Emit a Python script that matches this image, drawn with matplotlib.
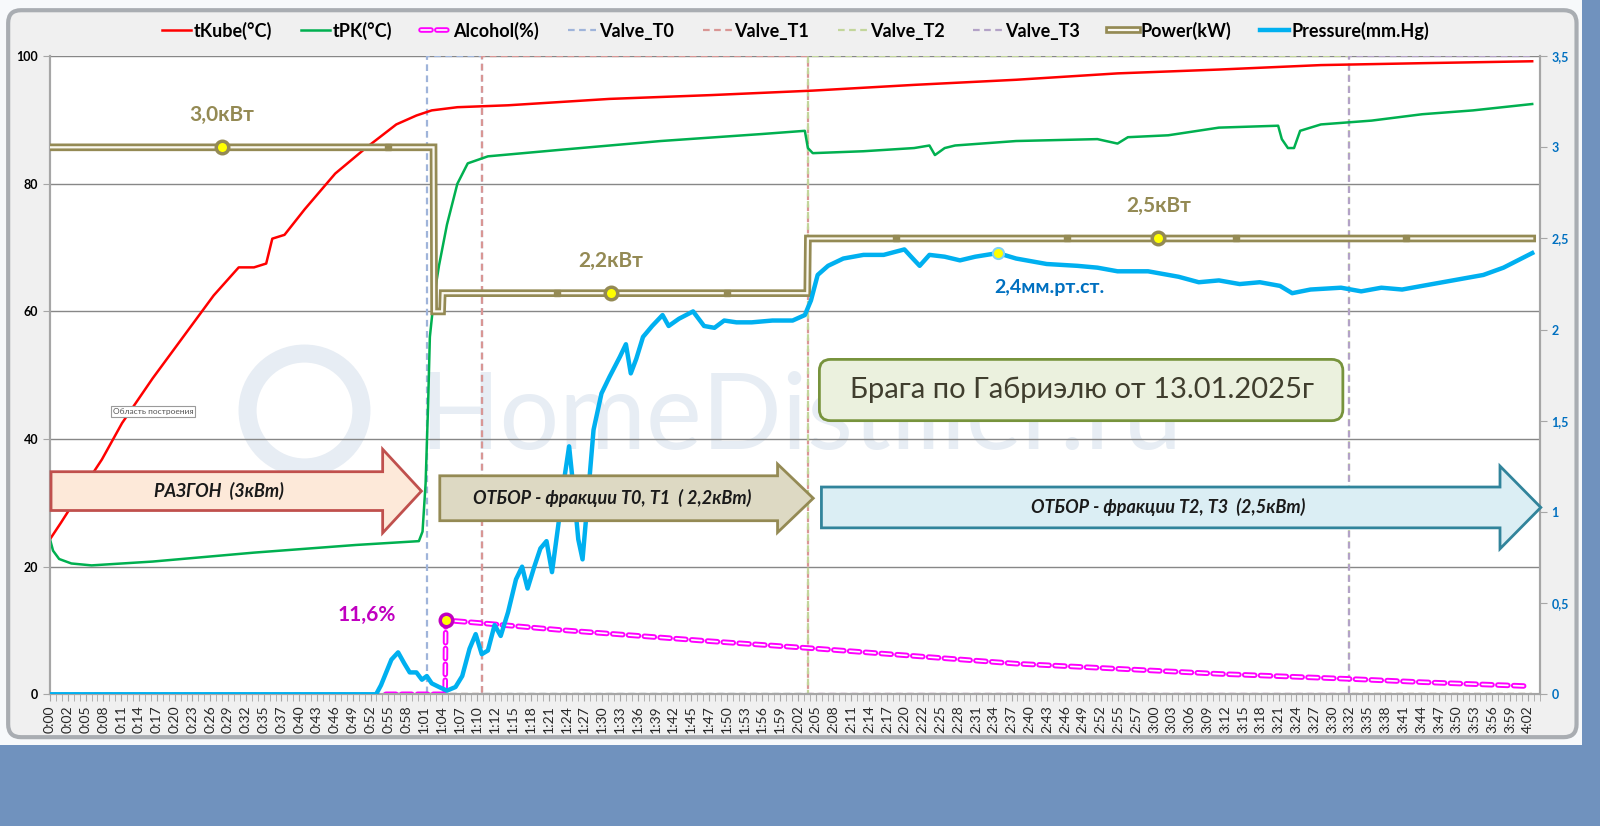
import numpy as np
import matplotlib
matplotlib.use("Agg")
import matplotlib.pyplot as plt
import matplotlib.patheffects as pe
from matplotlib.patches import Polygon, FancyBboxPatch, Rectangle

plt.rcParams['font.family'] = ['Lato', 'DejaVu Sans']

# ---- data (time in minutes from start) ----
tkube_t = [0, 1.8, 5.2, 8.5, 11.8, 16.8, 21.8, 26.8, 30.9, 33.4, 35.4, 36.4, 38.4, 41.7,
           46.7, 51.7, 56.7, 60.0, 62.5, 66.7, 75.0, 91.6, 108.3, 124.9, 141.5, 158.2,
           174.8, 191.4, 208.1, 224.7, 242.7]
tkube_v = [24.3, 26.9, 32.0, 36.8, 42.5, 49.5, 56.0, 62.5, 66.9, 66.9, 67.5, 71.4, 72.0, 76.0,
           81.6, 85.6, 89.3, 90.7, 91.5, 92.0, 92.3, 93.3, 93.9, 94.6, 95.5, 96.3,
           97.3, 97.9, 98.6, 98.9, 99.2]

tpk_t = [0, 0.5, 1.5, 3.5, 6.8, 16.8, 33.4, 50.1, 60.4, 61.0, 61.5, 61.9, 62.2, 62.9, 63.7,
         65.0, 66.7, 68.4, 71.7, 83.3, 100.0, 116.6, 123.6, 124.1, 124.9, 133.2, 141.5,
         144.0, 144.9, 146.5, 148.2, 158.2, 171.5, 174.8, 176.5, 183.1, 191.4, 201.1,
         201.7, 202.7, 203.7, 204.7, 208.1, 216.4, 224.7, 233.0, 242.7]
tpk_v = [24.3, 22.5, 21.2, 20.5, 20.2, 20.8, 22.2, 23.4, 24.0, 25.5, 33.0, 45.0, 56.0, 62.4, 67.2,
         73.6, 80.0, 83.2, 84.3, 85.3, 86.7, 87.8, 88.3, 85.6, 84.8, 85.1, 85.6,
         86.0, 84.5, 85.6, 86.0, 86.7, 87.0, 86.3, 87.3, 87.6, 88.8, 89.1,
         87.0, 85.6, 85.6, 88.3, 89.3, 89.9, 90.9, 91.5, 92.5]

alc_t = [55.0, 64.7, 64.8, 70.0, 83.3, 108.3, 124.9, 158.2, 191.4, 213.0, 224.7, 241.3]
alc_v = [0, 0, 11.6, 11.2, 10.1, 8.3, 7.2, 4.8, 3.2, 2.4, 1.9, 1.3]

press_t = [0, 53.4, 54.2, 55.9, 57.0, 58.0, 58.9, 60.0, 60.9, 61.7, 62.5, 63.7, 65.0, 66.4,
           67.5, 68.7, 69.7, 70.7, 71.7, 72.8, 73.8, 75.0, 76.3, 77.3, 78.2, 79.3, 80.3,
           81.3, 82.2, 83.2, 84.2, 85.0, 85.8, 86.5, 87.2, 88.0, 89.0, 90.3, 91.6, 93.3,
           94.3, 95.1, 96.0, 97.1, 98.6, 100.3, 101.3, 103.0, 105.3, 107.1, 108.8, 110.4,
           112.4, 114.9, 118.3, 121.6, 123.6, 124.6, 125.7, 127.4, 129.9, 133.2, 136.5,
           139.9, 141.0, 142.4, 144.0, 146.5, 149.0, 151.5, 155.2, 158.2, 163.2, 168.2,
           171.5, 174.8, 179.8, 184.8, 188.1, 191.4, 194.8, 198.1, 201.4, 203.4, 206.4,
           211.4, 214.7, 218.0, 221.4, 224.7, 229.7, 234.7, 238.0, 242.7]
press_v = [0, 0, 0.05, 0.19, 0.23, 0.17, 0.12, 0.12, 0.08, 0.10, 0.06, 0.04, 0.02, 0.04,
           0.10, 0.25, 0.33, 0.22, 0.24, 0.38, 0.32, 0.45, 0.63, 0.70, 0.58, 0.70, 0.80,
           0.84, 0.67, 0.92, 1.18, 1.36, 1.10, 0.85, 0.74, 1.05, 1.45, 1.65, 1.74, 1.85,
           1.92, 1.76, 1.84, 1.96, 2.02, 2.08, 2.02, 2.06, 2.10, 2.02, 2.01, 2.05,
           2.04, 2.04, 2.05, 2.05, 2.08, 2.16, 2.30, 2.35, 2.39, 2.41, 2.41,
           2.44, 2.40, 2.35, 2.41, 2.40, 2.38, 2.40, 2.42, 2.39, 2.36, 2.35,
           2.34, 2.32, 2.32, 2.29, 2.26, 2.27, 2.25, 2.26, 2.24, 2.20, 2.22,
           2.23, 2.21, 2.23, 2.22, 2.24, 2.27, 2.30, 2.34, 2.42]

power_t = [0, 62.8, 62.9, 64.2, 64.3, 124.0, 124.1, 242.7]
power_v = [3.0, 3.0, 2.1, 2.1, 2.2, 2.2, 2.5, 2.5]
power_marks_t = [27.6, 55.4, 83.0, 110.8, 138.5, 166.5, 194.2, 222.0]

# valve switch-on times (minutes); each valve is 100 until the next one opens
valve_names = ['Valve_T0', 'Valve_T1', 'Valve_T2', 'Valve_T3']
valve_on = [61.7, 70.7, 124.1, 212.7]
valve_colors = ['#9fb4da', '#d99694', '#c3d69b', '#b3a2c7']
t_end = 242.7

# labelled points
power_label_t = [28.1, 91.8, 181.5]
power_label_txt = ['3,0кВт', '2,2кВт', '2,5кВт']
press_label_t, press_label_v = 155.2, 2.42
alc_label_t, alc_label_v = 64.8, 11.6

x_labels = ['0:00', '0:02', '0:05', '0:08', '0:11', '0:14', '0:17', '0:20', '0:23', '0:26',
            '0:29', '0:32', '0:35', '0:37', '0:40', '0:43', '0:46', '0:49', '0:52', '0:55',
            '0:58', '1:01', '1:04', '1:07', '1:10', '1:12', '1:15', '1:18', '1:21', '1:24',
            '1:27', '1:30', '1:33', '1:36', '1:39', '1:42', '1:45', '1:47', '1:50', '1:53',
            '1:56', '1:59', '2:02', '2:05', '2:08', '2:11', '2:14', '2:17', '2:20', '2:22',
            '2:25', '2:28', '2:31', '2:34', '2:37', '2:40', '2:43', '2:46', '2:49', '2:52',
            '2:55', '2:57', '3:00', '3:03', '3:06', '3:09', '3:12', '3:15', '3:18', '3:21',
            '3:24', '3:27', '3:30', '3:32', '3:35', '3:38', '3:41', '3:44', '3:47', '3:50',
            '3:53', '3:56', '3:59', '4:02']
right_ticks = [0, 0.5, 1, 1.5, 2, 2.5, 3, 3.5]
right_labels = ['0', '0,5', '1', '1,5', '2', '2,5', '3', '3,5']

# ---- figure ----
W, H = 1568, 809  # reference coordinates used for placing decorations


def px(x, y):
    return x / W, 1 - y / H


fig = plt.figure(figsize=(16, 8.26), dpi=100, facecolor='#7092be')
fig.add_artist(Rectangle((0, 1 - 730 / H), 1550 / W, 730 / H, transform=fig.transFigure,
                         fc='#f7f9fb', ec='none', zorder=-3))
x0, y0 = px(8, 722)
x1, y1 = px(1545, 10)
fig.add_artist(FancyBboxPatch((x0, y0), x1 - x0, y1 - y0, transform=fig.transFigure,
                              boxstyle='round,pad=0,rounding_size=0.008', mutation_aspect=1600 / 826,
                              fc='#f0f0f0', ec='#a9adb2', lw=3, zorder=-2))

ax = fig.add_axes([49 / W, 1 - 680 / H, 1460 / W, 625 / H])
ax.set_facecolor('white')
ax2 = ax.twinx()

# watermark
ax.plot(*px(298, 402), 'o', transform=fig.transFigure, ms=82, mfc='none', mec='#e7edf4',
        mew=13, zorder=0.2)
ax.text(*px(785, 410), 'HomeDistiller.ru', transform=fig.transFigure, ha='center', va='center',
        fontsize=76, color='#e7edf4', zorder=0.2)

# valves
for name, on, col, nxt in zip(valve_names, valve_on, valve_colors, valve_on[1:] + [None]):
    if nxt is None:
        vt, vv = [0, on, on, t_end], [0, 0, 100, 100]
    else:
        vt, vv = [0, on, on, nxt, nxt, t_end], [0, 0, 100, 100, 0, 0]
    ax.plot(vt, vv, color=col, lw=1.6, ls=(0, (3, 2)), label=name, zorder=2)

l_kube, = ax.plot(tkube_t, tkube_v, color='#ff0000', lw=1.8, label='tKube(°C)', zorder=3)
l_pk, = ax.plot(tpk_t, tpk_v, color='#00b050', lw=1.8, label='tPK(°C)', zorder=3)
l_alc, = ax.plot(alc_t, alc_v, color='white', lw=1.2, ls=(0, (6, 3.5)), dash_capstyle='round',
                 label='Alcohol(%)', zorder=3,
                 path_effects=[pe.Stroke(linewidth=4, foreground='#ff00ff'), pe.Normal()])
ax.plot([alc_label_t], [alc_label_v], 'o', ms=9, mfc='#ffff00', mec='#c000c0', mew=2.5, zorder=4)

l_pow, = ax2.plot(power_t, power_v, color='#faf8f0', lw=1.6, label='Power(kW)', zorder=3,
                  solid_joinstyle='miter',
                  path_effects=[pe.Stroke(linewidth=5.5, foreground='#948a54'), pe.Normal()])
ax2.plot(power_marks_t, np.interp(power_marks_t, power_t, power_v), 's', ms=4,
         color='#948a54', zorder=3.5)
ax2.plot(power_label_t, np.interp(power_label_t, power_t, power_v), 'o', ms=9,
         mfc='#ffff00', mec='#948a54', mew=2.5, zorder=4)
l_pr, = ax2.plot(press_t, press_v, color='#00b0f0', lw=3.2, label='Pressure(mm.Hg)', zorder=3.6,
                 solid_joinstyle='round')
ax2.plot([press_label_t], [press_label_v], 'o', ms=8, mfc='#ffff00', mec='#7fd3f5', mew=1.5,
         zorder=4)

# axes
ax.set_xlim(0, t_end)
ax.set_ylim(0, 100)
ax2.set_ylim(0, 3.5)
ax.set_yticks([0, 20, 40, 60, 80, 100])
ax.set_yticklabels(['0', '20', '40', '60', '80', '100'], fontsize=9, fontweight='bold')
ax2.set_yticks(right_ticks)
ax2.set_yticklabels(right_labels, fontsize=9, fontweight='bold', color='#0070c0')
ax.grid(axis='y', color='#878787', lw=1)
ax.set_axisbelow(True)
step = 242.0 / 83
ax.set_xticks([i * step for i in range(len(x_labels))])
ax.set_xticklabels(x_labels, rotation=90, fontsize=10, color='#262626')
ax.set_xticks([i * step / 3 for i in range(3 * len(x_labels))], minor=True)
ax.tick_params(axis='x', which='both', length=5, color='#a6a6a6', pad=3)
ax.tick_params(axis='y', length=5, color='#a6a6a6')
ax2.tick_params(axis='y', length=5, color='#a6a6a6')
for a in (ax, ax2):
    a.spines['top'].set_visible(False)
    for s in ('left', 'right', 'bottom'):
        a.spines[s].set_color('#a6a6a6')
        a.spines[s].set_linewidth(1.5)

# legend
handles = [l_kube, l_pk, l_alc] + ax.get_lines()[1:5] + [l_pow, l_pr]
fig.legend(handles=handles, labels=[h.get_label() for h in handles], loc='center',
           bbox_to_anchor=(px(780, 30)), ncol=9, frameon=False,
           prop={'weight': 'bold', 'size': 13}, handlelength=1.6, handletextpad=0.15,
           columnspacing=1.6)

# annotations
for t, txt in zip(power_label_t, power_label_txt):
    v = np.interp(t, power_t, power_v)
    ax2.annotate(txt, (t, v), xytext=(0, 16), textcoords='offset points', ha='center',
                 va='bottom', fontsize=15, fontweight='bold', color='#948a54', zorder=6)
ax2.annotate('2,4мм.рт.ст.', (press_label_t, press_label_v), xytext=(37, -25),
             textcoords='offset points', ha='center', va='center', fontsize=14,
             fontweight='bold', color='#0070c0', zorder=6)
ax.annotate('11,6%', (alc_label_t, alc_label_v), xytext=(-57, 4), textcoords='offset points',
            ha='center', va='center', fontsize=15, fontweight='bold', color='#c000c0', zorder=6)


def block_arrow(xa, xh, xt, ym, body, head, fc, ec, txt, tx):
    pts = [(xa, ym - body / 2), (xh, ym - body / 2), (xh, ym - head / 2), (xt, ym),
           (xh, ym + head / 2), (xh, ym + body / 2), (xa, ym + body / 2)]
    fig.add_artist(Polygon([px(*p) for p in pts], closed=True, transform=fig.transFigure,
                           fc=fc, ec=ec, lw=2, zorder=10))
    fig.text(*px(tx, ym), txt, ha='center', va='center', fontsize=13, fontweight='bold',
             fontstyle='italic', color='#1a1a1a', zorder=11)


block_arrow(50, 375, 413, 481, 38, 82, '#fde9d9', '#c0504d', 'РАЗГОН  (3кВт)', 215)
block_arrow(431, 762, 797, 488, 44, 67, '#ddd9c3', '#948a54',
            'ОТБОР - фракции Т0, Т1  ( 2,2кВт)', 600)
block_arrow(805, 1470, 1510, 497, 40, 81, '#dbeef4', '#31849b',
            'ОТБОР - фракции Т2, Т3  (2,5кВт)', 1145)

bx0, by0 = px(803, 412)
bx1, by1 = px(1316, 352)
fig.add_artist(FancyBboxPatch((bx0, by0), bx1 - bx0, by1 - by0, transform=fig.transFigure,
                              boxstyle='round,pad=0,rounding_size=0.007', mutation_aspect=1600 / 826,
                              fc='#ebf1de', ec='#77933c', lw=2, zorder=10))
fig.text(*px(1060, 382), 'Брага по Габриэлю от 13.01.2025г', ha='center', va='center',
         fontsize=21, color='#403e2e', zorder=11)

fig.text(*px(150, 403), 'Область построения', ha='center', va='center', fontsize=6,
         color='#555555', zorder=11,
         bbox=dict(boxstyle='square,pad=0.2', fc='white', ec='#9a9a9a', lw=0.8))

fig.savefig('out.png', dpi=100, facecolor=fig.get_facecolor())
